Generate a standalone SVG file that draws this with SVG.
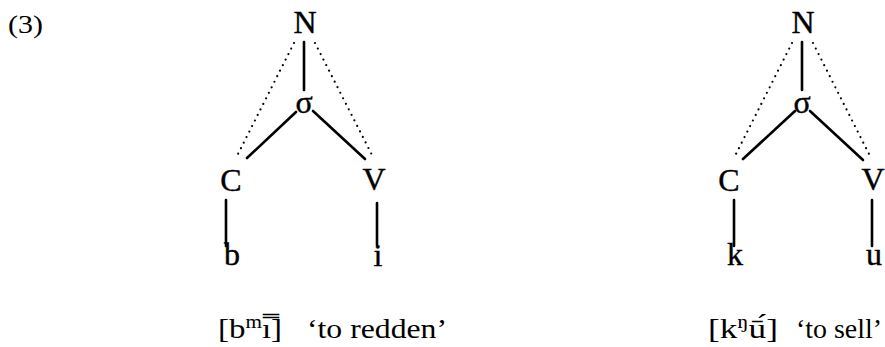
<svg xmlns="http://www.w3.org/2000/svg" width="885" height="347" viewBox="0 0 885 347">
  <style>
    text { font-family: "Liberation Serif", "DejaVu Serif", serif; fill: #000; }
    .node { font-size: 32px; text-anchor: middle; stroke: #000; stroke-width: 0.4; }
    .gloss { font-size: 28px; }
    .num { font-size: 26px; }
    .solid { stroke: #000; stroke-width: 2.6; stroke-linecap: round; fill: none; }
    .dot { stroke: #000; stroke-width: 2.2; stroke-linecap: round; stroke-dasharray: 0 6.2; fill: none; }
  </style>
  <rect width="885" height="347" fill="#fff"/>

  <text class="num" x="8" y="33" textLength="35" lengthAdjust="spacingAndGlyphs">(3)</text>

  <!-- connectors of both trees -->
  <g id="connectors">
    <!-- left tree -->
    <line class="solid" x1="304" y1="42" x2="304" y2="90"/>
    <line class="solid" x1="296" y1="112" x2="247" y2="158"/>
    <line class="solid" x1="313" y1="111" x2="365" y2="159"/>
    <line class="dot" x1="294" y1="43" x2="237" y2="156"/>
    <line class="dot" x1="315" y1="43" x2="372" y2="155"/>
    <line class="solid" x1="226" y1="200" x2="226" y2="246"/>
    <line class="solid" x1="377" y1="203" x2="377" y2="245"/>
    <!-- right tree -->
    <line class="solid" x1="802" y1="42" x2="802" y2="90"/>
    <line class="solid" x1="795" y1="111" x2="743" y2="159"/>
    <line class="solid" x1="810" y1="111" x2="863" y2="160"/>
    <line class="dot" x1="792" y1="43" x2="735" y2="156"/>
    <line class="dot" x1="813" y1="43" x2="870" y2="156"/>
    <line class="solid" x1="734" y1="200" x2="734" y2="246"/>
    <line class="solid" x1="872" y1="200" x2="872" y2="246"/>
  </g>

  <!-- left tree nodes -->
  <g id="L-N"><text class="node" x="305" y="33">N</text></g>
  <g id="L-syl"><text class="node" x="304" y="113">σ</text></g>
  <g id="L-C"><text class="node" x="231" y="191">C</text></g>
  <g id="L-V"><text class="node" x="374" y="190">V</text></g>
  <g id="L-b"><text class="node" x="232" y="265">b</text></g>
  <g id="L-i"><text class="node" x="378" y="266">i</text></g>

  <!-- right tree nodes -->
  <g id="R-N"><text class="node" x="803" y="33">N</text></g>
  <g id="R-syl"><text class="node" x="802" y="113">σ</text></g>
  <g id="R-C"><text class="node" x="729" y="191">C</text></g>
  <g id="R-V"><text class="node" x="873" y="190">V</text></g>
  <g id="R-k"><text class="node" x="735" y="265">k</text></g>
  <g id="R-u"><text class="node" x="874" y="265">u</text></g>

  <!-- glosses -->
  <g id="gloss-left">
    <text class="gloss" x="218" y="338" textLength="64" lengthAdjust="spacingAndGlyphs">[b<tspan dy="-10" font-size="18">m</tspan><tspan dy="10">ı̿</tspan>]</text>
    <text class="gloss" x="307" y="338" textLength="140" lengthAdjust="spacingAndGlyphs">‘to redden’</text>
  </g>
  <g id="gloss-right">
    <text class="gloss" x="708" y="338" textLength="70" lengthAdjust="spacingAndGlyphs">[k<tspan dy="-10" font-size="18">ŋ</tspan><tspan dy="10">ū́</tspan>]</text>
    <text class="gloss" x="796" y="338" textLength="86" lengthAdjust="spacingAndGlyphs">‘to sell’</text>
  </g>
</svg>
